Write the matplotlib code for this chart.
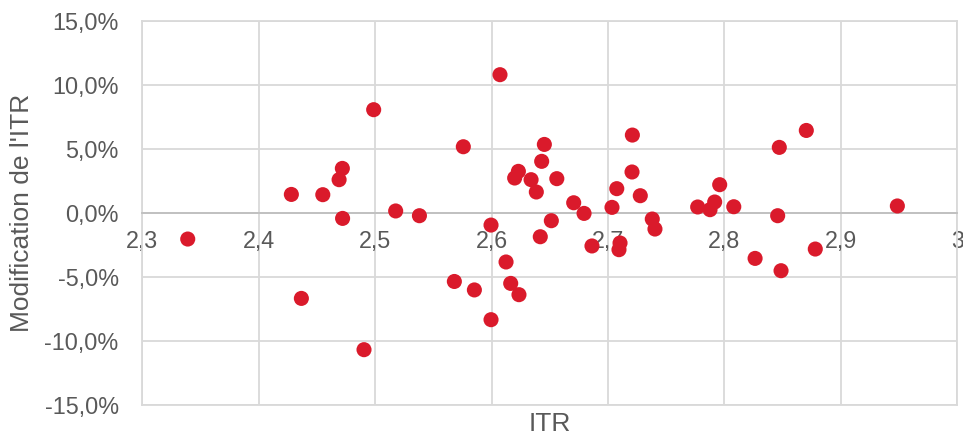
import matplotlib.pyplot as plt
from matplotlib.ticker import FuncFormatter, MultipleLocator

plt.rcParams['font.family'] = ['Liberation Sans', 'DejaVu Sans']

# ITR et modification de l'ITR (en %)
itr = [2.339, 2.4987, 2.4718, 2.469, 2.428, 2.455, 2.472, 2.5176, 2.538, 2.4366,
       2.4904, 2.5757, 2.568, 2.6072, 2.6453, 2.643, 2.623, 2.6198, 2.6339, 2.656,
       2.6384, 2.6705, 2.6794, 2.7034, 2.7075, 2.7209, 2.7206, 2.7277, 2.738, 2.7403,
       2.777, 2.6513, 2.6418, 2.5995, 2.6862, 2.7103, 2.7094, 2.6124, 2.5852, 2.6164,
       2.6235, 2.5995, 2.8703, 2.8471, 2.7959, 2.7916, 2.7876, 2.808, 2.8457, 2.9485,
       2.8263, 2.8486, 2.878]
modif = [-2.03, 8.06, 3.48, 2.6, 1.45, 1.43, -0.42, 0.16, -0.21, -6.66,
         -10.66, 5.17, -5.34, 10.79, 5.35, 4.03, 3.25, 2.73, 2.6, 2.68,
         1.64, 0.8, -0.03, 0.44, 1.9, 6.08, 3.2, 1.35, -0.47, -1.25,
         0.47, -0.6, -1.85, -0.94, -2.57, -2.34, -2.86, -3.82, -6.0, -5.49,
         -6.37, -8.32, 6.44, 5.12, 2.21, 0.86, 0.26, 0.49, -0.21, 0.55,
         -3.54, -4.5, -2.81]
modif = [v / 100 for v in modif]

grille = '#D9D9D9'
texte = '#595959'

fig = plt.figure(figsize=(9.63, 4.37), dpi=100)
ax = fig.add_axes([0.1478, 0.0725, 0.8463, 0.8801])

ax.scatter(itr, modif, s=118, color='#DA1A2B', edgecolors='none', zorder=3, clip_on=False)

ax.set_xlim(2.3, 3.0)
ax.set_ylim(-0.15, 0.15)
ax.xaxis.set_major_locator(MultipleLocator(0.1))
ax.yaxis.set_major_locator(MultipleLocator(0.05))
ax.xaxis.set_major_formatter(FuncFormatter(lambda v, p: ('%g' % round(v, 1)).replace('.', ',')))
ax.yaxis.set_major_formatter(FuncFormatter(lambda v, p: ('%.1f%%' % (v * 100)).replace('.', ',').replace('-0,0', '0,0')))

ax.set_axisbelow(True)
ax.grid(True, color=grille, linewidth=1.3)
for s in ['top', 'right', 'left']:
    ax.spines[s].set_color(grille)
    ax.spines[s].set_linewidth(1.3)
ax.spines['bottom'].set_position(('data', 0))
ax.spines['bottom'].set_color('#BFBFBF')
ax.spines['bottom'].set_linewidth(1.3)
ax.axhline(ax.get_ylim()[0], color=grille, linewidth=1.3, clip_on=False, zorder=0.5)

ax.tick_params(axis='both', length=0, labelsize=16.8, labelcolor=texte)
ax.tick_params(axis='x', pad=12)
ax.tick_params(axis='y', pad=17)

ax.set_xlabel('ITR', fontsize=19, color=texte)
ax.xaxis.set_label_coords(0.5, -0.018)
ax.set_ylabel("Modification de l'ITR", fontsize=19, color=texte)
ax.yaxis.set_label_coords(-0.133, 0.5)

fig.savefig('out.png', dpi=100)
